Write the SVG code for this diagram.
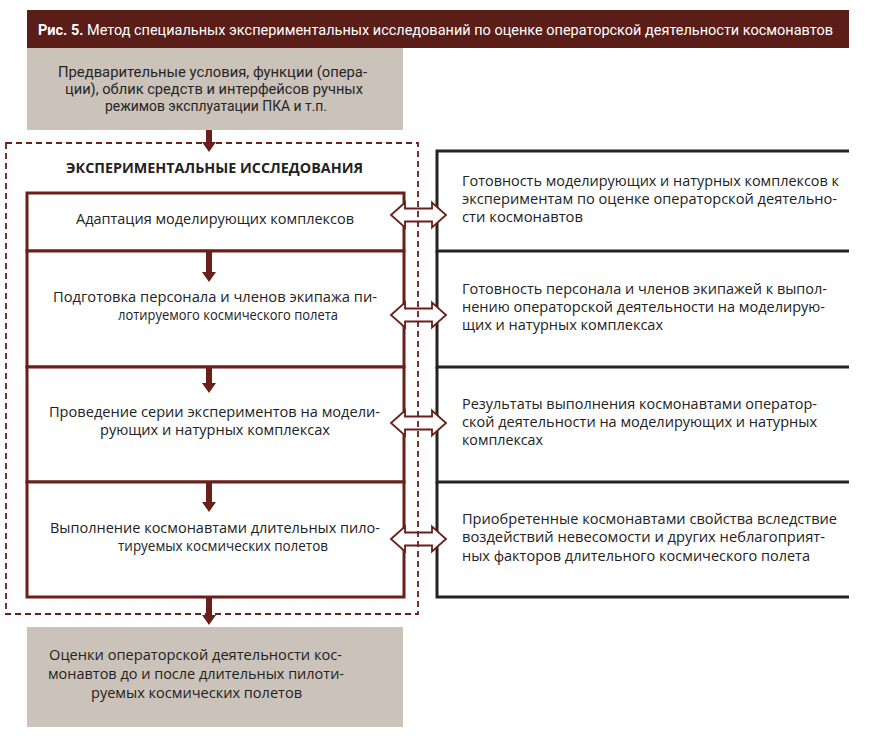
<svg xmlns="http://www.w3.org/2000/svg" width="870" height="745" viewBox="0 0 870 745">
<defs>
<style>
.cond{font-family:"Liberation Sans Narrow","Roboto","Liberation Sans",sans-serif;font-size:14.5px;fill:#262626}
.body{font-family:"Open Sans","Noto Sans","DejaVu Sans",sans-serif;font-size:14px;fill:#222222}
.hdr{font-family:"Open Sans","Noto Sans","DejaVu Sans",sans-serif;font-size:14px;font-weight:bold;fill:#222222}
.title{font-family:"Liberation Sans Narrow","Roboto","Liberation Sans",sans-serif;font-size:14.5px;fill:#ffffff}
.lbox{fill:#ffffff;stroke:#6b1f1a;stroke-width:3}
.gray{fill:#cbc2b9}
.rline{stroke:#232323;stroke-width:3;fill:none}
.darrow{fill:#ffffff;stroke:#6b1f1a;stroke-width:1.8;stroke-linejoin:miter}
.down{fill:#6b1f1a}
.dash{fill:none;stroke:#6b1f1a;stroke-width:1.8;stroke-dasharray:6,4}
</style>
</defs>
<rect width="870" height="745" fill="#ffffff"/>

<g id="title">
<rect x="27" y="10" width="822" height="38" fill="#5a1d18"/>
<text class="title" x="38" y="34.5" textLength="795" lengthAdjust="spacingAndGlyphs"><tspan font-weight="bold">Рис. 5.</tspan> Метод специальных экспериментальных исследований по оценке операторской деятельности космонавтов</text>
</g>

<g id="node-preconditions">
<rect class="gray" x="27" y="48" width="376" height="82"/>
<text class="cond" x="58" y="77" textLength="309" lengthAdjust="spacingAndGlyphs">Предварительные условия, функции (опера-</text>
<text class="cond" x="65" y="94" textLength="298" lengthAdjust="spacingAndGlyphs">ции), облик средств и интерфейсов ручных</text>
<text class="cond" x="105" y="111" textLength="222" lengthAdjust="spacingAndGlyphs">режимов эксплуатации ПКА и т.п.</text>
</g>

<g id="node-step1">
<rect class="lbox" x="27" y="193" width="377" height="58"/>
<text class="body" x="76" y="224" textLength="278" lengthAdjust="spacingAndGlyphs">Адаптация моделирующих комплексов</text>
</g>
<g id="node-step2">
<rect class="lbox" x="27" y="251" width="377" height="116"/>
<text class="body" x="53" y="302" textLength="324" lengthAdjust="spacingAndGlyphs">Подготовка персонала и членов экипажа пи-</text>
<text class="body" x="118" y="320" textLength="220" lengthAdjust="spacingAndGlyphs">лотируемого космического полета</text>
</g>
<g id="node-step3">
<rect class="lbox" x="27" y="367" width="377" height="115"/>
<text class="body" x="49" y="417" textLength="331" lengthAdjust="spacingAndGlyphs">Проведение серии экспериментов на модели-</text>
<text class="body" x="100" y="435" textLength="230" lengthAdjust="spacingAndGlyphs">рующих и натурных комплексах</text>
</g>
<g id="node-step4">
<rect class="lbox" x="27" y="482" width="377" height="115"/>
<text class="body" x="50" y="533" textLength="330" lengthAdjust="spacingAndGlyphs">Выполнение космонавтами длительных пило-</text>
<text class="body" x="118" y="551" textLength="210" lengthAdjust="spacingAndGlyphs">тируемых космических полетов</text>
</g>

<g id="node-result">
<rect class="gray" x="27" y="627" width="376" height="100"/>
<text class="body" x="49" y="660" textLength="293" lengthAdjust="spacingAndGlyphs">Оценки операторской деятельности кос-</text>
<text class="body" x="48" y="679" textLength="296" lengthAdjust="spacingAndGlyphs">монавтов до и после длительных пилоти-</text>
<text class="body" x="91" y="698" textLength="211" lengthAdjust="spacingAndGlyphs">руемых космических полетов</text>
</g>

<g id="node-out1">
<path class="rline" d="M849,151 H437 V251 H849"/>
<text class="body" x="462" y="186" textLength="377" lengthAdjust="spacingAndGlyphs">Готовность моделирующих и натурных комплексов к</text>
<text class="body" x="462" y="204" textLength="375" lengthAdjust="spacingAndGlyphs">экспериментам по оценке операторской деятельно-</text>
<text class="body" x="462" y="222" textLength="121" lengthAdjust="spacingAndGlyphs">сти космонавтов</text>
</g>
<g id="node-out2">
<path class="rline" d="M437,251 V367 H849"/>
<text class="body" x="462" y="294" textLength="365" lengthAdjust="spacingAndGlyphs">Готовность персонала и членов экипажей к выпол-</text>
<text class="body" x="462" y="312" textLength="363" lengthAdjust="spacingAndGlyphs">нению операторской деятельности на моделирую-</text>
<text class="body" x="462" y="330" textLength="201" lengthAdjust="spacingAndGlyphs">щих и натурных комплексах</text>
</g>
<g id="node-out3">
<path class="rline" d="M437,367 V482 H849"/>
<text class="body" x="462" y="409" textLength="355" lengthAdjust="spacingAndGlyphs">Результаты выполнения космонавтами оператор-</text>
<text class="body" x="462" y="427" textLength="355" lengthAdjust="spacingAndGlyphs">ской деятельности на моделирующих и натурных</text>
<text class="body" x="462" y="445" textLength="81" lengthAdjust="spacingAndGlyphs">комплексах</text>
</g>
<g id="node-out4">
<path class="rline" d="M437,482 V597 H849"/>
<text class="body" x="462" y="524" textLength="375" lengthAdjust="spacingAndGlyphs">Приобретенные космонавтами свойства вследствие</text>
<text class="body" x="462" y="542" textLength="363" lengthAdjust="spacingAndGlyphs">воздействий невесомости и других неблагоприят-</text>
<text class="body" x="462" y="561" textLength="348" lengthAdjust="spacingAndGlyphs">ных факторов длительного космического полета</text>
</g>

<g id="connectors">
<path class="down" d="M206,130 H212 V142 H216 L209,152 L202,142 H206 Z"/>
<path class="down" d="M206,252 H212 V272 H216 L209,282 L202,272 H206 Z"/>
<path class="down" d="M206,368 H212 V383 H216 L209,393 L202,383 H206 Z"/>
<path class="down" d="M206,483 H212 V502 H216 L209,512 L202,502 H206 Z"/>
<path class="down" d="M206,598 H212 V615 H216 L209,625 L202,615 H206 Z"/>
<polygon class="darrow" points="391,215 405,202.5 405,208.5 432,208.5 432,202.5 446,215 432,227.5 432,221.5 405,221.5 405,227.5"/>
<polygon class="darrow" points="391,315 405,302.5 405,308.5 432,308.5 432,302.5 446,315 432,327.5 432,321.5 405,321.5 405,327.5"/>
<polygon class="darrow" points="391,423 405,410.5 405,416.5 432,416.5 432,410.5 446,423 432,435.5 432,429.5 405,429.5 405,435.5"/>
<polygon class="darrow" points="391,539 405,526.5 405,532.5 432,532.5 432,526.5 446,539 432,551.5 432,545.5 405,545.5 405,551.5"/>
</g>

<g id="group-experiments">
<rect class="dash" x="6" y="143" width="412" height="471"/>
<text class="hdr" x="66" y="173" textLength="297" lengthAdjust="spacingAndGlyphs">ЭКСПЕРИМЕНТАЛЬНЫЕ ИССЛЕДОВАНИЯ</text>
</g>
</svg>
